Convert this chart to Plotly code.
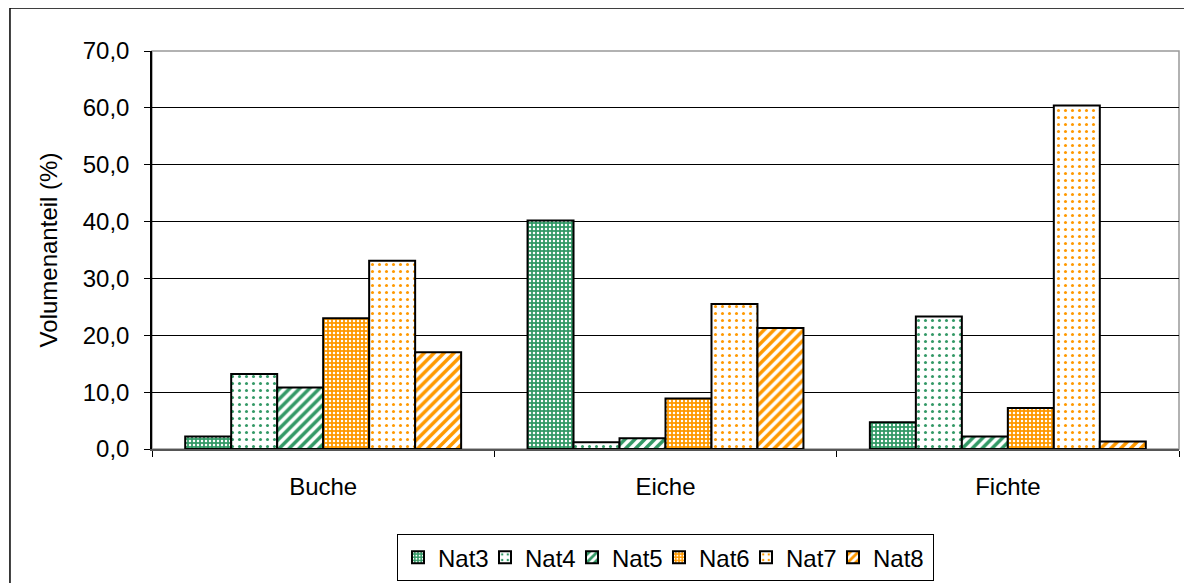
import plotly.graph_objects as go

# data
baumarten = ['Buche', 'Eiche', 'Fichte']
nat3 = [2.2, 40.2, 4.7]
nat4 = [13.2, 1.2, 23.3]
nat5 = [10.8, 1.9, 2.2]
nat6 = [23.0, 8.9, 7.2]
nat7 = [33.1, 25.5, 60.4]
nat8 = [17.0, 21.3, 1.3]
y_ticks = [0, 10, 20, 30, 40, 50, 60, 70]

green = '#339966'
orange = '#FF9900'

series = [
    ('Nat3', nat3, dict(shape='.', bgcolor=green, fgcolor='white', size=4, solidity=0.3)),
    ('Nat4', nat4, dict(shape='.', bgcolor='white', fgcolor=green, size=7, solidity=0.15)),
    ('Nat5', nat5, dict(shape='/', bgcolor='white', fgcolor=green, size=7, solidity=0.5)),
    ('Nat6', nat6, dict(shape='.', bgcolor=orange, fgcolor='white', size=4, solidity=0.3)),
    ('Nat7', nat7, dict(shape='.', bgcolor='white', fgcolor=orange, size=7, solidity=0.15)),
    ('Nat8', nat8, dict(shape='/', bgcolor='white', fgcolor=orange, size=7, solidity=0.5)),
]

fig = go.Figure()
for i, (name, vals, pat) in enumerate(series):
    # tighter legend entries, last one keeps room for its text
    lw = 42 if i < len(series) - 1 else 55
    fig.add_trace(go.Bar(
        x=baumarten, y=vals, name=name, legendwidth=lw,
        marker=dict(color=pat['bgcolor'], pattern=dict(fillmode='replace', **pat),
                    line=dict(color='black', width=2)),
    ))

# outer chart border + plot area border
fig.add_shape(type='rect', xref='paper', yref='paper',
              x0=-0.1383, x1=1.03, y0=-0.4, y1=1.108,
              line=dict(color='black', width=1.5), layer='below')
fig.add_shape(type='rect', xref='paper', yref='paper',
              x0=0, x1=1, y0=0, y1=1,
              line=dict(color='#999999', width=1.5), layer='below')

# page has an 8px body margin, so the figure is 8px smaller
fig.update_layout(
    width=1184, height=575,
    margin=dict(l=144, r=13, t=43, b=133.5, autoexpand=False),
    paper_bgcolor='white', plot_bgcolor='white',
    separators=',.',
    barmode='group', bargap=0.194, bargroupgap=0,
    font=dict(family='Liberation Sans, Arial, sans-serif', color='black', size=24),
    showlegend=True,
    legend=dict(orientation='h', x=0.5, xanchor='center', xref='paper',
                y=0.085, yanchor='top', yref='container',
                bordercolor='black', borderwidth=1, font=dict(size=24),
                itemwidth=30, tracegroupgap=0),
)
fig.update_xaxes(
    type='category', tickson='boundaries', ticks='outside', ticklen=6,
    tickcolor='black', showline=True, linecolor='#555555', linewidth=1.5,
    showgrid=False, ticklabelstandoff=15, tickfont=dict(size=24), automargin=False,
)
fig.update_yaxes(
    range=[0, 70], tickvals=y_ticks, tickformat='.1f',
    ticks='outside', ticklen=6, tickcolor='black',
    showline=True, linecolor='black', linewidth=1.5,
    showgrid=True, gridcolor='black', gridwidth=1,
    zeroline=False, ticklabelstandoff=10, tickfont=dict(size=24), automargin=False,
    title=dict(text='Volumenanteil (%)', font=dict(size=24), standoff=18),
)

fig.write_html("out.html")
